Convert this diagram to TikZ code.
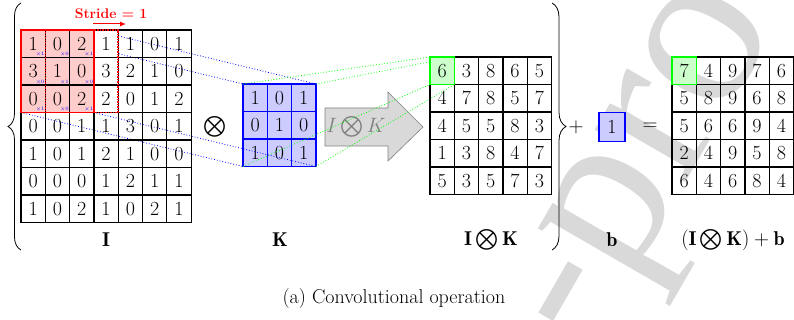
\documentclass[tikz,border=0pt]{standalone}
\usepackage{amsmath}
\usepackage{fontspec}
\newfontfamily\wmfont{Liberation Serif}
\usetikzlibrary{decorations.pathreplacing,arrows.meta}
\pgfdeclarelayer{back}
\pgfdeclarelayer{lines}
\pgfsetlayers{back,lines,main}
\newcommand{\cellw}{24.3}
\newcommand{\cellh}{27.5}
\newcommand{\mkmat}[5]{%
  \foreach \rw [count=\r] in {#5}{%
    \foreach \v [count=\c] in \rw {%
      \node[cell,#4] (#1-\r-\c) at ({#2+(\c-0.5)*\cellw},{#3+(\r-0.5)*\cellh}) {\v};
    }}}
\begin{document}
\begin{tikzpicture}[x=1pt,y=-1pt,
  font=\fontsize{20}{24}\selectfont,
  cell/.style={draw, line width=1.2pt, minimum width=\cellw pt, minimum height=\cellh pt, inner sep=0pt, outer sep=0pt},
  kcell/.style={draw=blue, fill=blue!20},
  blueline/.style={blue, dotted, line width=0.8pt},
  greenline/.style={green, dotted, line width=0.8pt},
  xlab/.style={blue, font=\fontsize{5}{6}\selectfont, inner sep=0.5pt, anchor=south east},
  lab/.style={inner sep=0pt},
  wm/.style={black!15, font=\wmfont\fontsize{228}{236}\selectfont, anchor=base west, inner sep=0pt, rotate=60}]
\useasboundingbox (0,0) rectangle (794,320);

\begin{pgfonlayer}{back}
% watermark
\begin{scope}
\clip (0,0) rectangle (794,320);
\node[wm] (wm1) at (588.3,351.5) {-};
\node[wm] (wm2) at (626.3,285.8) {p};
\node[wm] (wm3) at (683.3,187.1) {r};
\node[wm] (wm4) at (721.2,121.3) {o};
\end{scope}
% kernel K and arrow
\mkmat{K}{243}{84}{kcell}{{1,0,1},{0,1,0},{1,0,1}}
\draw[gray, fill=gray!30, line width=0.6pt] (325,108) -- (388,108) -- (388,92) -- (423,127) -- (388,161) -- (388,146) -- (325,146) -- cycle;
\node[gray, lab] (arrtext) at (356,127) {$I\bigotimes K$};
\end{pgfonlayer}

% input matrix I
\fill[red!20] (21,30) rectangle ++({3*\cellw},{3*\cellh});
\fill[white] ({21+3*\cellw},30) rectangle ++({\cellw},{3*\cellh});
\mkmat{I}{21}{30}{}{{1,0,2,1,1,0,1},{3,1,0,3,2,1,0},{0,0,2,2,0,1,2},{0,0,1,1,3,0,1},{1,0,1,2,1,0,0},{0,0,0,1,2,1,1},{1,0,2,1,0,2,1}}
\draw[red, densely dotted, line width=1.5pt] (I-1-2.north west) rectangle (I-3-4.south east);
\draw[red, line width=1.5pt] (I-1-1.north west) rectangle (I-3-3.south east);
\foreach \rw [count=\r] in {{1,0,1},{0,1,0},{1,0,1}}{%
  \foreach \k [count=\c] in \rw {%
    \node[xlab] at (I-\r-\c.south east) {$\times$\k};
  }}

% stride
\node[red, font=\fontsize{14}{16}\selectfont\bfseries, lab] (stride) at (111,14) {Stride = 1};
\coordinate (sa) at (93,24);
\coordinate (sb) at (126,24);
\draw[red, line width=1pt, -{Latex[length=6pt,width=5pt]}] (sa) -- (sb);

% blue dotted lines
\begin{pgfonlayer}{lines}
\draw[blueline] (I-1-1.north west) -- (K-1-1.north west);
\draw[blueline] (I-1-3.north east) -- (K-1-3.north east);
\draw[blueline] (I-3-1.south west) -- (K-3-1.south west);
\draw[blueline] (I-3-3.south east) -- (K-3-3.south east);
\end{pgfonlayer}

\node[lab] (otimes) at (215,127) {$\bigotimes$};

% output I (x) K
\fill[green!20] (430,57) rectangle ++({\cellw},{\cellh});
\mkmat{O}{430}{57}{}{{6,3,8,6,5},{4,7,8,5,7},{4,5,5,8,3},{1,3,8,4,7},{5,3,5,7,3}}
\draw[green, line width=1.2pt] (O-1-1.north west) rectangle (O-1-1.south east);
\begin{pgfonlayer}{lines}
\draw[greenline] (K-1-1.north west) -- (O-1-1.north west);
\draw[greenline] (K-1-3.north east) -- (O-1-1.north east);
\draw[greenline] (K-3-1.south west) -- (O-1-1.south west);
\draw[greenline] (K-3-3.south east) -- (O-1-1.south east);
\end{pgfonlayer}

% braces
\draw[decorate, decoration={brace, amplitude=13pt}, line width=0.8pt] (21,250) -- (21,3);
\draw[decorate, decoration={brace, amplitude=14pt}, line width=0.8pt] (552,3) -- (552,250);

% bias and result
\node[lab] (plus) at (576,127) {$+$};
\node[cell, draw=blue, fill=blue!20, minimum width=26pt, minimum height=29pt] (bias) at (612,127) {1};
\node[lab] (eq) at (650,127) {$=$};
\fill[green!20] (672,57) rectangle ++({\cellw},{\cellh});
\mkmat{R}{672}{57}{}{{7,4,9,7,6},{5,8,9,6,8},{5,6,6,9,4},{2,4,9,5,8},{6,4,6,8,4}}
\draw[green, line width=1.2pt] (R-1-1.north west) rectangle (R-1-1.south east);

% labels
\node[lab] (lI) at (106,240) {$\mathbf{I}$};
\node[lab] (lK) at (280,240) {$\mathbf{K}$};
\node[lab] (lIK) at (491,240) {$\mathbf{I}\bigotimes\mathbf{K}$};
\node[lab] (lb) at (612,240) {$\mathbf{b}$};
\node[lab] (lR) at (733,240) {$(\mathbf{I}\bigotimes\mathbf{K})+\mathbf{b}$};
\node[lab] (cap) at (394,299) {(a) Convolutional operation};
\end{tikzpicture}
\end{document}
